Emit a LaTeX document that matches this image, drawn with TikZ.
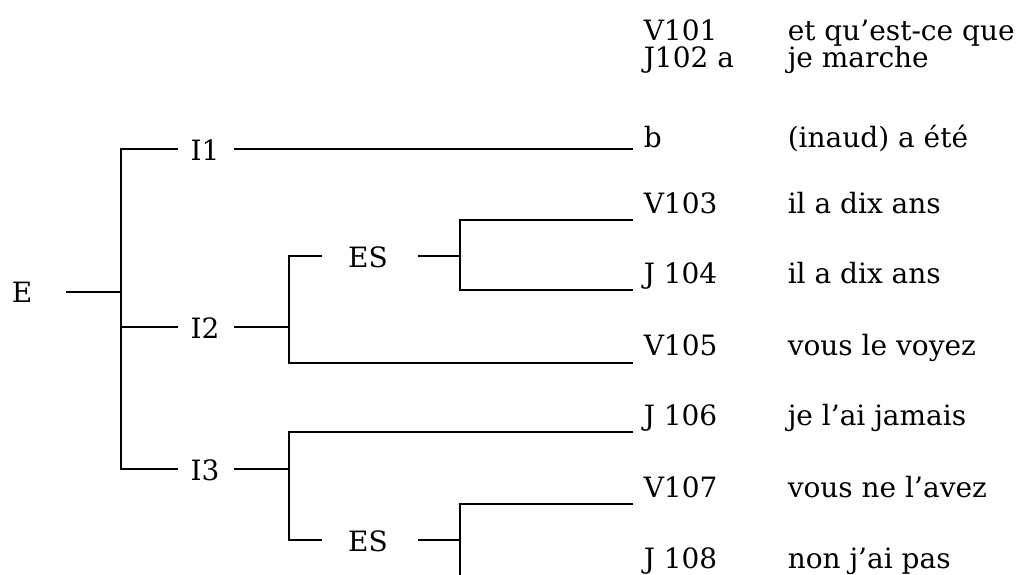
\documentclass[tikz,border=0pt]{standalone}
\usepackage{fontspec}
\setmainfont{DejaVu Serif}
\begin{document}
\begin{tikzpicture}[x=1pt,y=-1pt,line width=1.5pt,
  lbl/.style={font=\fontsize{28}{32}\selectfont,inner sep=0pt,anchor=base},
  code/.style={lbl,anchor=base west},
  utt/.style={lbl,anchor=base west}]
\useasboundingbox (0,0) rectangle (1017,574);
% tree labels
\node[lbl] (E) at (22,302) {E};
\node[lbl] (I1) at (205,160) {I1};
\node[lbl] (I2) at (205,338) {I2};
\node[lbl] (I3) at (205,480) {I3};
\node[lbl] (ES1) at (368,267) {ES};
\node[lbl] (ES2) at (368,551) {ES};
% right column
\node[code] (c101) at (643,40) {V101};
\node[utt] (u101) at (787,40) {et qu’est-ce que};
\node[code] (c102) at (643,67) {J102 a};
\node[utt] (u102) at (787,67) {je marche};
\node[code] (c102b) at (643,147) {b};
\node[utt] (u102b) at (787,147) {(inaud) a été};
\node[code] (c103) at (643,213) {V103};
\node[utt] (u103) at (787,213) {il a dix ans};
\node[code] (c104) at (643,283) {J 104};
\node[utt] (u104) at (787,283) {il a dix ans};
\node[code] (c105) at (643,355) {V105};
\node[utt] (u105) at (787,355) {vous le voyez};
\node[code] (c106) at (643,425) {J 106};
\node[utt] (u106) at (787,425) {je l’ai jamais};
\node[code] (c107) at (643,497) {V107};
\node[utt] (u107) at (787,497) {vous ne l’avez};
\node[code] (c108) at (643,568) {J 108};
\node[utt] (u108) at (787,568) {non j’ai pas};
% connector points
\coordinate (Eo) at (66,292);
\coordinate (J0) at (121,292);
\coordinate (J0b) at (121,327);
\coordinate (I1in) at (178,149);
\coordinate (I2in) at (178,327);
\coordinate (I3in) at (178,469);
\coordinate (I1out) at (234,149);
\coordinate (I2out) at (234,327);
\coordinate (I3out) at (234,469);
\coordinate (J2) at (289,327);
\coordinate (J4) at (289,469);
\coordinate (ES1in) at (322,256);
\coordinate (ES2in) at (322,540);
\coordinate (ES1out) at (418,256);
\coordinate (ES2out) at (418,540);
\coordinate (J3) at (460,256);
\coordinate (J5) at (460,540);
\coordinate (Jbot) at (460,576);
\coordinate (e102b) at (633,149);
\coordinate (e103) at (633,220);
\coordinate (e104) at (633,290);
\coordinate (e105) at (633,363);
\coordinate (e106) at (633,432);
\coordinate (e107) at (633,504);
% connectors
\draw (Eo) -- (J0);
\draw (I1in) -| (J0) |- (I3in);
\draw (J0b) -- (I2in);
\draw (I1out) -- (e102b);
\draw (I2out) -- (J2);
\draw (ES1in) -| (J2) |- (e105);
\draw (ES1out) -- (J3);
\draw (e103) -| (J3) |- (e104);
\draw (I3out) -- (J4);
\draw (e106) -| (J4) |- (ES2in);
\draw (ES2out) -- (J5);
\draw (e107) -| (J5) -- (Jbot);
\end{tikzpicture}
\end{document}
